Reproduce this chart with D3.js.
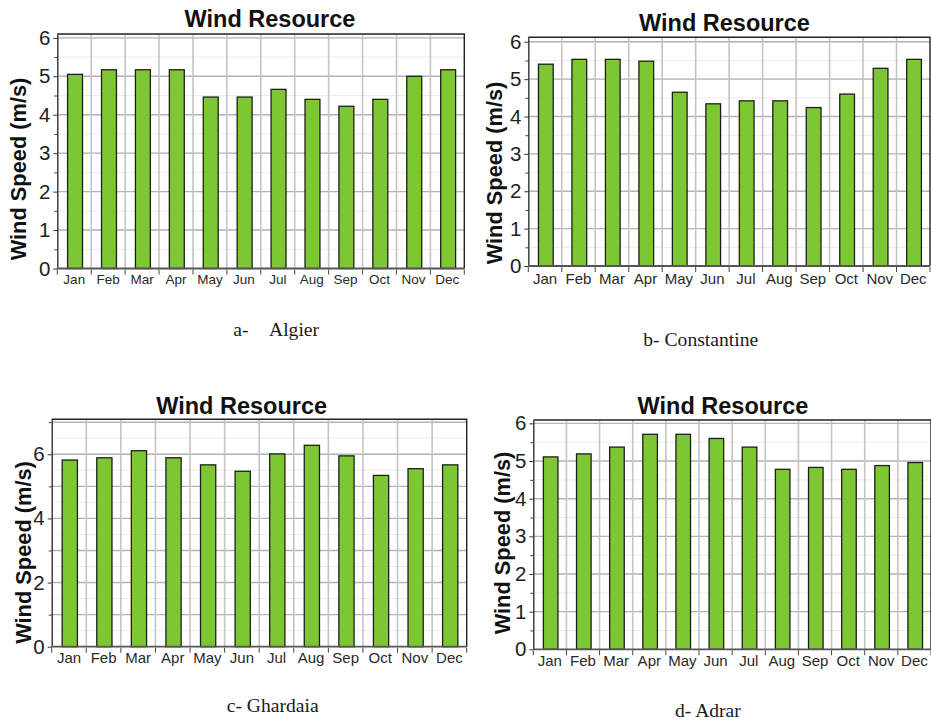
<!DOCTYPE html>
<html>
<head>
<meta charset="utf-8">
<script src="https://cdn.jsdelivr.net/npm/d3@7"></script>
<style>
  html, body { margin: 0; padding: 0; background: #fff; }
  svg { display: block; }
</style>
</head>
<body>
<svg id="chart" width="931" height="724"></svg>
<script>
// Monthly mean wind speed (m/s) at four Algerian sites
const months = ["Jan", "Feb", "Mar", "Apr", "May", "Jun", "Jul", "Aug", "Sep", "Oct", "Nov", "Dec"];
const algierSpeed      = [5.05, 5.17, 5.17, 5.17, 4.46, 4.46, 4.66, 4.40, 4.22, 4.40, 5.00, 5.17];
const constantineSpeed = [5.40, 5.53, 5.53, 5.48, 4.65, 4.34, 4.42, 4.42, 4.24, 4.60, 5.29, 5.53];
const ghardaiaSpeed    = [5.82, 5.89, 6.11, 5.89, 5.67, 5.47, 6.01, 6.28, 5.95, 5.34, 5.55, 5.67];
const adrarSpeed       = [5.11, 5.19, 5.37, 5.71, 5.71, 5.60, 5.37, 4.78, 4.83, 4.78, 4.88, 4.96];

const yTicksUnit = [0, 1, 2, 3, 4, 5, 6];
const yTicksEven = [0, 2, 4, 6];
const chartTitle = "Wind Resource";
const yAxisTitle = "Wind Speed (m/s)";

// Panel layout: plot frame, axis extent and text placement
const panels = [
  { values: algierSpeed, ticks: yTicksUnit, minorStep: 0.5, yMax: 6.1,
    left: 57.3, right: 464.3, top: 34, bottom: 268.5,
    titleX: 270, titleY: 26.7, yLabX: 26, yLabY: 169, xLabY: 284, xFont: 13.5,
    caption: [{ t: "a-", x: 233.3 }, { t: "Algier", x: 269 }], capY: 336 },
  { values: constantineSpeed, ticks: yTicksUnit, minorStep: 0.5, yMax: 6.12,
    left: 528.3, right: 930, top: 37.3, bottom: 266,
    titleX: 724.5, titleY: 31, yLabX: 502, yLabY: 173, xLabY: 283.5, xFont: 15,
    caption: [{ t: "b- Constantine", x: 643.3 }], capY: 346 },
  { values: ghardaiaSpeed, ticks: yTicksEven, minorStep: 1, yMax: 7.09,
    left: 51.7, right: 466.7, top: 419.3, bottom: 646.7,
    titleX: 241.7, titleY: 413.5, yLabX: 30.7, yLabY: 552.5, xLabY: 663.5, xFont: 15,
    caption: [{ t: "c- Ghardaia", x: 226.7 }], capY: 711.7 },
  { values: adrarSpeed, ticks: yTicksUnit, minorStep: 0.5, yMax: 6.09,
    left: 533.3, right: 931, top: 420, bottom: 649.3,
    titleX: 723, titleY: 413.5, yLabX: 510, yLabY: 543, xLabY: 666.5, xFont: 15,
    caption: [{ t: "d- Adrar", x: 675 }], capY: 717.3 }
];

const svg = d3.select("#chart");
const sans = "'Liberation Sans', Arial, sans-serif";
const serif = "'Liberation Serif', 'Times New Roman', serif";

panels.forEach(p => {
  const g = svg.append("g");

  const x = d3.scaleBand()
    .domain(months)
    .range([p.left, p.right])
    .paddingInner(0.56)
    .paddingOuter(0.28);
  const y = d3.scaleLinear().domain([0, p.yMax]).range([p.bottom, p.top]);
  const edge = (x.step() - x.bandwidth()) / 2;
  const bounds = months.map(m => x(m) - edge).concat([p.right]);

  // faint half-step grid
  const fine = d3.range(0, p.yMax, 0.5).filter(v => v > 0);
  g.append("g").selectAll("line").data(fine).join("line")
    .attr("x1", p.left).attr("x2", p.right)
    .attr("y1", d => y(d)).attr("y2", d => y(d))
    .attr("stroke", "#ececec").attr("stroke-width", 1);

  // main horizontal grid, one line per unit
  const main = d3.range(1, Math.floor(p.yMax) + 1, 1);
  g.append("g").selectAll("line").data(main).join("line")
    .attr("x1", p.left).attr("x2", p.right)
    .attr("y1", d => y(d)).attr("y2", d => y(d))
    .attr("stroke", "#b4b4b4").attr("stroke-width", 1.4);

  // vertical grid at month boundaries
  g.append("g").selectAll("line").data(bounds.slice(1, 12)).join("line")
    .attr("x1", d => d).attr("x2", d => d)
    .attr("y1", p.top).attr("y2", p.bottom)
    .attr("stroke", "#c4c4c4").attr("stroke-width", 1.6);

  // bars
  g.append("g").selectAll("rect").data(p.values).join("rect")
    .attr("x", (d, i) => x(months[i]) + 0.8)
    .attr("width", x.bandwidth())
    .attr("y", d => y(d))
    .attr("height", d => y(0) - y(d))
    .attr("fill", "#7dc832")
    .attr("stroke", "#1e1e1e")
    .attr("stroke-width", 1.3);

  // frame: top and right edges
  g.append("path")
    .attr("d", `M${p.left},${p.top}H${p.right}V${p.bottom}`)
    .attr("fill", "none").attr("stroke", "#222").attr("stroke-width", 1.4);

  // y axis with major and minor ticks
  const minorVals = d3.range(0, p.yMax, p.minorStep).filter(v => !p.ticks.includes(v));
  g.append("g")
    .attr("transform", `translate(${p.left},0)`)
    .call(d3.axisLeft(y).tickValues(minorVals).tickSize(3).tickFormat(""))
    .call(a => a.select(".domain").remove())
    .call(a => a.selectAll("line").attr("stroke", "#444"));
  const yAx = g.append("g")
    .attr("transform", `translate(${p.left},0)`)
    .call(d3.axisLeft(y).tickValues(p.ticks).tickSize(4).tickPadding(3).tickFormat(d3.format("d")).tickSizeOuter(0));
  yAx.select(".domain").attr("stroke", "#333").attr("stroke-width", 1.4);
  yAx.selectAll("line").attr("stroke", "#333");
  yAx.selectAll("text")
    .attr("font-family", sans).attr("font-size", 20.5).attr("fill", "#1e1e1e");

  // x axis: month labels and boundary ticks
  const xAx = g.append("g")
    .attr("transform", `translate(0,${p.bottom})`)
    .call(d3.axisBottom(x).tickSize(0).tickPadding(0).tickSizeOuter(0));
  xAx.select(".domain").attr("stroke", "#555").attr("stroke-width", 1.8)
    .attr("d", `M${p.left},0H${p.right}`);
  xAx.selectAll("text")
    .attr("font-family", sans).attr("font-size", p.xFont).attr("fill", "#2a2a2a")
    .attr("dy", null)
    .attr("y", p.xLabY - p.bottom);
  g.append("g").selectAll("line").data(bounds).join("line")
    .attr("x1", d => d).attr("x2", d => d)
    .attr("y1", p.bottom + 1).attr("y2", p.bottom + 6)
    .attr("stroke", "#444").attr("stroke-width", 1);

  // titles
  g.append("text")
    .attr("x", p.titleX).attr("y", p.titleY)
    .attr("text-anchor", "middle")
    .attr("font-family", sans).attr("font-weight", "bold").attr("font-size", 23.5)
    .attr("fill", "#111")
    .text(chartTitle);

  g.append("text")
    .attr("transform", `translate(${p.yLabX},${p.yLabY}) rotate(-90)`)
    .attr("text-anchor", "middle")
    .attr("font-family", sans).attr("font-weight", "bold").attr("font-size", 21.8)
    .attr("fill", "#111")
    .text(yAxisTitle);

  // caption under the panel
  const cap = g.append("text")
    .attr("y", p.capY)
    .attr("font-family", serif).attr("font-size", 19.6).attr("fill", "#1a1a1a");
  cap.selectAll("tspan").data(p.caption).join("tspan")
    .attr("x", d => d.x)
    .text(d => d.t);
});
</script>
</body>
</html>
